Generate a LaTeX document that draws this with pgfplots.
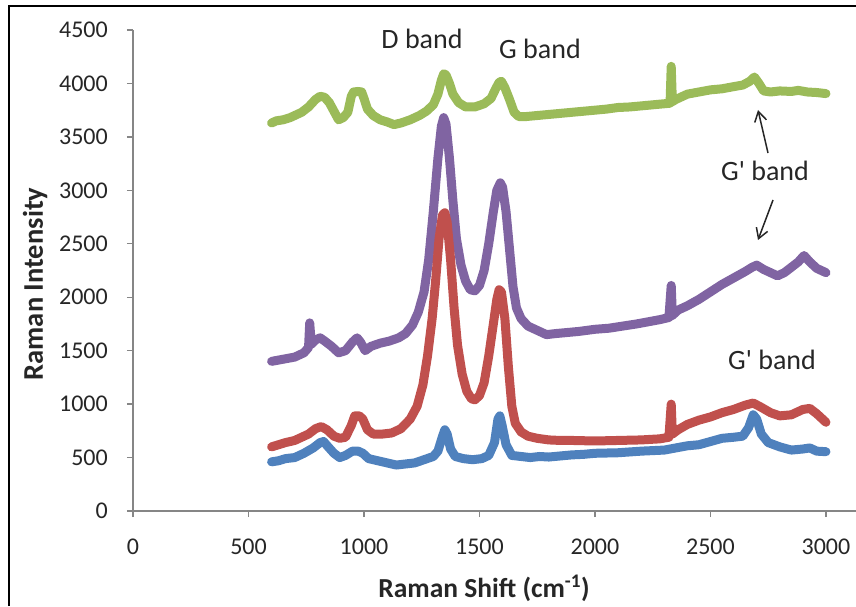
\documentclass[border=0pt]{standalone}
\usepackage{fontspec}
\setmainfont{Carlito}[Ligatures=TeXOff]
\usepackage{pgfplots}
\pgfplotsset{compat=1.18}
\usetikzlibrary{arrows.meta}
\definecolor{xblue}{HTML}{4F81BD}
\definecolor{xred}{HTML}{C0504D}
\definecolor{xgreen}{HTML}{9BBB59}
\definecolor{xpurple}{HTML}{8064A2}
\definecolor{axgray}{HTML}{868686}
\definecolor{txt}{HTML}{262626}

\pgfplotstableread{
x y
600 3630
620 3650
650 3660
680 3680
700 3700
730 3730
760 3780
790 3850
810 3880
830 3870
850 3820
870 3740
890 3660
910 3680
930 3730
945 3880
955 3920
975 3925
990 3920
1000 3860
1015 3760
1040 3700
1070 3660
1100 3640
1130 3615
1160 3630
1200 3660
1240 3700
1270 3740
1300 3800
1320 3900
1335 4030
1345 4090
1355 4080
1370 4000
1385 3900
1410 3820
1440 3780
1480 3780
1520 3810
1550 3860
1570 3950
1585 4010
1595 4020
1610 3960
1630 3850
1650 3730
1670 3690
1700 3690
1750 3700
1800 3710
1850 3720
1900 3730
1950 3740
2000 3750
2050 3760
2100 3775
2150 3780
2200 3790
2250 3800
2300 3810
2325 3815
2330 4160
2335 3830
2350 3850
2400 3900
2450 3920
2500 3940
2550 3950
2600 3970
2640 3985
2670 4020
2690 4060
2710 4000
2730 3930
2760 3920
2800 3930
2850 3925
2880 3935
2920 3920
2960 3915
3000 3905
}\greendata

\pgfplotstableread{
x y
600 1400
650 1420
700 1440
740 1480
760 1530
765 1760
772 1560
790 1600
810 1620
830 1590
860 1540
890 1480
920 1500
950 1580
970 1620
985 1580
1005 1500
1030 1540
1070 1570
1110 1590
1150 1620
1180 1660
1210 1740
1235 1860
1260 2050
1280 2350
1300 2800
1320 3300
1335 3600
1345 3680
1355 3620
1370 3300
1385 2900
1400 2550
1420 2300
1440 2150
1460 2070
1480 2060
1500 2110
1520 2250
1540 2500
1560 2800
1575 3000
1590 3070
1600 3030
1615 2800
1630 2450
1645 2100
1660 1900
1680 1800
1710 1730
1750 1690
1790 1650
1830 1660
1880 1670
1930 1680
2000 1700
2060 1710
2120 1730
2180 1750
2230 1770
2280 1790
2320 1810
2330 2110
2335 1830
2360 1880
2400 1920
2450 1980
2500 2050
2550 2120
2600 2180
2650 2240
2680 2280
2700 2300
2730 2260
2760 2230
2790 2200
2820 2230
2850 2280
2880 2330
2905 2390
2930 2330
2960 2270
3000 2230
}\purpledata

\pgfplotstableread{
x y
600 600
630 620
660 640
700 660
730 690
760 720
790 770
815 790
840 760
870 700
895 680
920 690
945 800
960 890
980 890
995 860
1015 760
1040 720
1080 720
1120 730
1160 770
1200 860
1230 980
1255 1180
1275 1450
1295 1800
1310 2150
1325 2550
1340 2770
1350 2790
1360 2700
1375 2350
1390 1900
1405 1550
1425 1280
1445 1120
1465 1050
1480 1040
1500 1080
1520 1200
1540 1450
1560 1750
1575 1980
1585 2070
1595 2050
1610 1800
1625 1350
1640 980
1655 820
1680 740
1710 700
1750 680
1800 665
1850 660
1900 660
2000 655
2100 660
2200 665
2280 675
2320 690
2330 1000
2335 720
2360 760
2400 810
2450 850
2500 880
2550 920
2600 950
2650 990
2685 1010
2720 970
2760 920
2800 890
2850 900
2900 950
2930 960
2960 910
3000 830
}\reddata

\pgfplotstableread{
x y
600 460
630 470
660 490
700 500
740 540
780 590
810 640
825 650
845 600
870 540
895 500
920 520
950 560
975 560
995 540
1020 490
1060 470
1100 450
1140 430
1180 440
1220 450
1260 480
1300 510
1320 560
1340 700
1350 760
1360 720
1375 580
1395 510
1430 490
1470 480
1510 490
1540 520
1565 640
1580 860
1588 890
1598 800
1615 620
1640 520
1680 510
1720 500
1760 510
1800 505
1850 515
1900 525
1950 530
2000 540
2100 545
2200 560
2300 570
2350 590
2400 610
2450 620
2500 650
2550 680
2600 690
2640 700
2665 780
2685 900
2700 860
2720 720
2750 640
2800 600
2850 570
2900 580
2930 590
2960 560
3000 555
}\bluedata

\begin{document}
\begin{tikzpicture}[x=1pt,y=1pt]
\useasboundingbox (0,0) rectangle (856,606);
\draw[line width=1.5pt, black] (9,0) -- (9,600) -- (856,600);
\begin{axis}[
  at={(133pt,95pt)}, anchor=south west,
  scale only axis, width=723pt, height=481pt,
  xmin=0, xmax=3130, ymin=0, ymax=4500,
  axis x line=bottom, axis y line=left,
  axis line style={-, axgray, line width=1.3pt},
  xtick={0,500,...,3000}, ytick={0,500,...,4500},
  tick align=outside, major tick length=6pt,
  tick style={axgray, line width=1.3pt},
  minor tick num=0,
  /pgf/number format/set thousands separator={},
  /pgf/number format/assume math mode=true,
  tick label style={font=\fontsize{24}{24}\selectfont, text=txt},
  yticklabel style={inner sep=0pt, xshift=-19pt},
  xticklabel style={inner sep=0pt, yshift=-22pt},
  clip=false,
]
\addplot[xgreen, line width=9pt, line join=round, line cap=round] table {\greendata};
\addplot[xpurple, line width=9pt, line join=round, line cap=round] table {\purpledata};
\addplot[xred, line width=9pt, line join=round, line cap=round] table {\reddata};
\addplot[xblue, line width=9pt, line join=round, line cap=round] table {\bluedata};
\end{axis}
\node[font=\fontsize{27.5}{27.5}\selectfont\bfseries, text=txt, anchor=base] at (484,9) {Raman Shift (cm\textsuperscript{-1})};
\node[font=\fontsize{28.5}{28.5}\selectfont\bfseries, text=txt, rotate=90, anchor=center] at (35,322) {Raman Intensity};
\node[font=\fontsize{28}{28}\selectfont, text=txt, anchor=base] at (422,557) {D band};
\node[font=\fontsize{28}{28}\selectfont, text=txt, anchor=base] at (540,547) {G band};
\node[font=\fontsize{28}{28}\selectfont, text=txt, anchor=base] at (765,425) {G' band};
\node[font=\fontsize{28}{28}\selectfont, text=txt, anchor=base] at (772,237) {G' band};
\draw[line width=1.5pt, txt, -{Straight Barb[length=10pt,width=12pt]}] (768,453) -- (758,496);
\draw[line width=1.5pt, txt, -{Straight Barb[length=10pt,width=12pt]}] (773,406) -- (758,366);
\end{tikzpicture}
\end{document}
